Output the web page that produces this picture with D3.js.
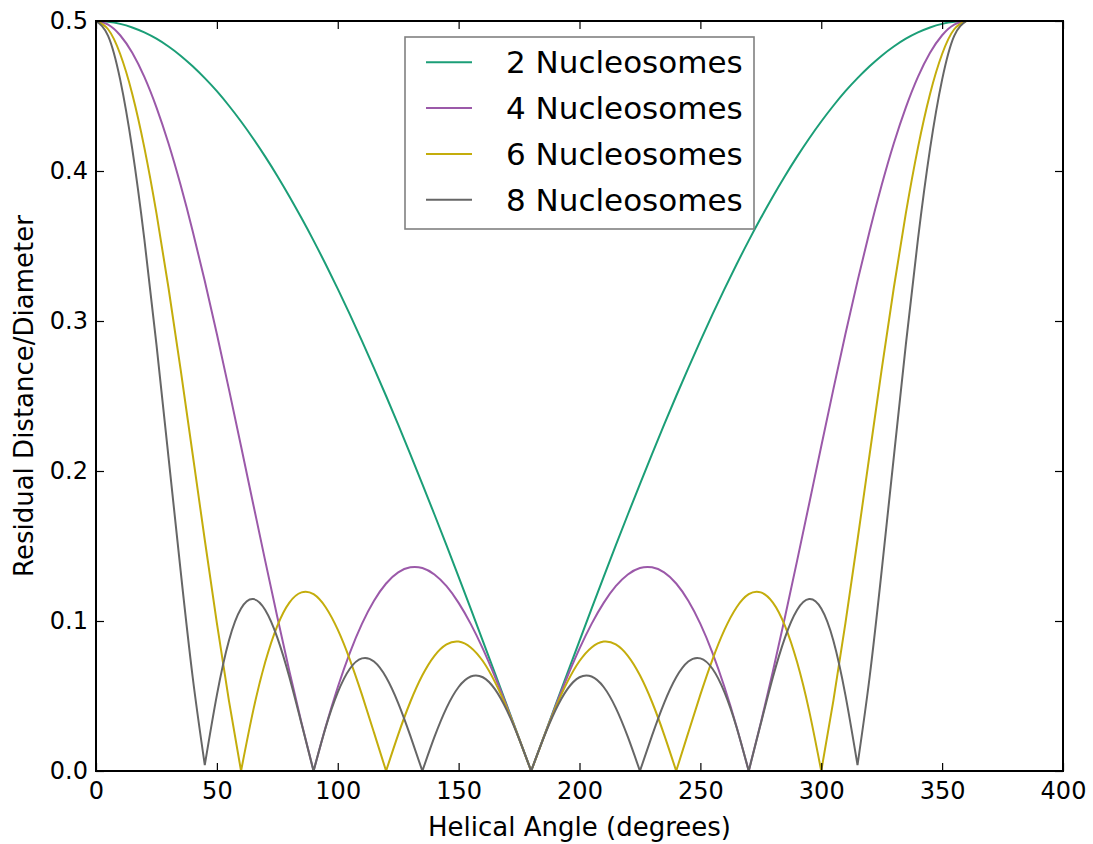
<!DOCTYPE html>
<html>
<head>
<meta charset="utf-8">
<script src="https://cdn.jsdelivr.net/npm/d3@7"></script>
<style>
  html, body { margin: 0; padding: 0; background: #fff; }
  svg { display: block; font-family: "DejaVu Sans", sans-serif; }
</style>
</head>
<body>
<svg id="chart" width="1093" height="844"></svg>
<script>
// Helical angle sample grid (degrees)
const angles = d3.range(0, 365, 5);

// Residual distance / diameter for each nucleosome count
const nuc2 = [0.5, 0.4995, 0.4981, 0.4957, 0.4924, 0.4882, 0.4830, 0.4769, 0.4698, 0.4619, 0.4532, 0.4435, 0.4330, 0.4217, 0.4096, 0.3967, 0.3830, 0.3686, 0.3536, 0.3378, 0.3214, 0.3044, 0.2868, 0.2686, 0.2500, 0.2309, 0.2113, 0.1913, 0.1710, 0.1504, 0.1294, 0.1082, 0.0868, 0.0653, 0.0436, 0.0218, 0,
  0.0218, 0.0436, 0.0653, 0.0868, 0.1082, 0.1294, 0.1504, 0.1710, 0.1913, 0.2113, 0.2309, 0.2500, 0.2686, 0.2868, 0.3044, 0.3214, 0.3378, 0.3536, 0.3686, 0.3830, 0.3967, 0.4096, 0.4217, 0.4330, 0.4435, 0.4532, 0.4619, 0.4698, 0.4769, 0.4830, 0.4882, 0.4924, 0.4957, 0.4981, 0.4995, 0.5];

const nuc4 = [0.5, 0.4976, 0.4905, 0.4788, 0.4627, 0.4424, 0.4183, 0.3906, 0.3599, 0.3266, 0.2913, 0.2544, 0.2165, 0.1782, 0.1401, 0.1027, 0.0665, 0.0321, 0, 0.0294, 0.0558, 0.0788, 0.0981, 0.1135, 0.1250, 0.1324, 0.1358, 0.1353, 0.1310, 0.1232, 0.1121, 0.0981, 0.0816, 0.0630, 0.0429, 0.0217, 0,
  0.0217, 0.0429, 0.0630, 0.0816, 0.0981, 0.1121, 0.1232, 0.1310, 0.1353, 0.1358, 0.1324, 0.1250, 0.1135, 0.0981, 0.0788, 0.0558, 0.0294, 0, 0.0321, 0.0665, 0.1027, 0.1401, 0.1782, 0.2165, 0.2544, 0.2913, 0.3266, 0.3599, 0.3906, 0.4183, 0.4424, 0.4627, 0.4788, 0.4905, 0.4976, 0.5];

const nuc6 = [0.5, 0.4945, 0.4780, 0.4514, 0.4156, 0.3719, 0.3220, 0.2677, 0.2110, 0.1540, 0.0986, 0.0467, 0, 0.0401, 0.0726, 0.0968, 0.1123, 0.1191, 0.1179, 0.1092, 0.0942, 0.0743, 0.0509, 0.0256, 0, 0.0243, 0.0460, 0.0638, 0.0768, 0.0844, 0.0863, 0.0824, 0.0733, 0.0594, 0.0418, 0.0216, 0,
  0.0216, 0.0418, 0.0594, 0.0733, 0.0824, 0.0863, 0.0844, 0.0768, 0.0638, 0.0460, 0.0243, 0, 0.0256, 0.0509, 0.0743, 0.0942, 0.1092, 0.1179, 0.1191, 0.1123, 0.0968, 0.0726, 0.0401, 0, 0.0467, 0.0986, 0.1540, 0.2110, 0.2677, 0.3220, 0.3719, 0.4156, 0.4514, 0.4780, 0.4945, 0.5];

const nuc8 = [0.5, 0.4901, 0.4609, 0.4147, 0.3545, 0.2844, 0.2091, 0.1336, 0.0625, 0.004, 0.0506, 0.0870, 0.1083, 0.1146, 0.1073, 0.0889, 0.0625, 0.0316, 0, 0.0290, 0.0524, 0.0682, 0.0751, 0.0730, 0.0625, 0.0453, 0.0236, 0, 0.0227, 0.0421, 0.0560, 0.0630, 0.0625, 0.0546, 0.0403, 0.0214, 0,
  0.0214, 0.0403, 0.0546, 0.0625, 0.0630, 0.0560, 0.0421, 0.0227, 0, 0.0236, 0.0453, 0.0625, 0.0730, 0.0751, 0.0682, 0.0524, 0.0290, 0, 0.0316, 0.0625, 0.0889, 0.1073, 0.1146, 0.1083, 0.0870, 0.0506, 0.004, 0.0625, 0.1336, 0.2091, 0.2844, 0.3545, 0.4147, 0.4609, 0.4901, 0.5];

const seriesNames = ["2 Nucleosomes", "4 Nucleosomes", "6 Nucleosomes", "8 Nucleosomes"];
const seriesValues = [nuc2, nuc4, nuc6, nuc8];
const seriesColors = ["#1b9e77", "#9b59a9", "#c4ad0c", "#666666"];

const xTicks = [0, 50, 100, 150, 200, 250, 300, 350, 400];
const yTicks = [0.0, 0.1, 0.2, 0.3, 0.4, 0.5];

const W = 1093, H = 844;
const margin = { top: 21, right: 30, bottom: 73, left: 96 };
const iw = W - margin.left - margin.right;
const ih = H - margin.top - margin.bottom;

const svg = d3.select("#chart");
const g = svg.append("g").attr("transform", `translate(${margin.left},${margin.top})`);

const x = d3.scaleLinear().domain([0, 400]).range([0, iw]);
const y = d3.scaleLinear().domain([0, 0.5]).range([ih, 0]);

// Split a series at its interior minima so the cusps stay sharp
function pieces(vals) {
  const pts = angles.map((a, i) => [a, vals[i]]);
  const out = [];
  let cur = [pts[0]];
  for (let i = 1; i < pts.length; i++) {
    cur.push(pts[i]);
    if (i < pts.length - 1 && vals[i] <= vals[i - 1] && vals[i] <= vals[i + 1]) {
      out.push(cur);
      cur = [pts[i]];
    }
  }
  out.push(cur);
  return out;
}

const line = d3.line()
  .x(d => x(d[0]))
  .y(d => y(d[1]))
  .curve(d3.curveNatural);

const plot = g.append("g");
seriesValues.forEach((vals, k) => {
  plot.append("path")
    .attr("fill", "none")
    .attr("stroke", seriesColors[k])
    .attr("stroke-width", 2)
    .attr("stroke-linejoin", "round")
    .attr("d", pieces(vals).map(seg => line(seg)).join(""));
});

// Axes: inward ticks on all four sides
const fmtY = d3.format(".1f");
const axBottom = g.append("g").attr("transform", `translate(0,${ih})`)
  .call(d3.axisBottom(x).tickValues(xTicks).tickSizeInner(-8).tickSizeOuter(0).tickPadding(11));
const axLeft = g.append("g")
  .call(d3.axisLeft(y).tickValues(yTicks).tickFormat(fmtY).tickSizeInner(-8).tickSizeOuter(0).tickPadding(8));
const axTop = g.append("g")
  .call(d3.axisTop(x).tickValues(xTicks).tickSizeInner(-8).tickSizeOuter(0).tickFormat(""));
const axRight = g.append("g").attr("transform", `translate(${iw},0)`)
  .call(d3.axisRight(y).tickValues(yTicks).tickSizeInner(-8).tickSizeOuter(0).tickFormat(""));

[axBottom, axLeft, axTop, axRight].forEach(a => {
  a.select(".domain").remove();
  a.selectAll(".tick line").attr("stroke", "#000").attr("stroke-width", 1.2);
  a.selectAll("text")
    .attr("font-family", "DejaVu Sans")
    .attr("font-size", 24)
    .attr("fill", "#000");
});

g.append("rect")
  .attr("x", 0).attr("y", 0).attr("width", iw).attr("height", ih)
  .attr("fill", "none").attr("stroke", "#000").attr("stroke-width", 2);

// Axis titles
svg.append("text")
  .attr("x", margin.left + iw / 2).attr("y", 836)
  .attr("text-anchor", "middle")
  .attr("font-size", 26)
  .text("Helical Angle (degrees)");

svg.append("text")
  .attr("transform", `translate(33,${margin.top + ih / 2}) rotate(-90)`)
  .attr("text-anchor", "middle")
  .attr("font-size", 26)
  .text("Residual Distance/Diameter");

// Legend
const legend = svg.append("g");
legend.append("rect")
  .attr("x", 405).attr("y", 37).attr("width", 349).attr("height", 192)
  .attr("fill", "#fff").attr("stroke", "#808080").attr("stroke-width", 1.6);
const rowY = d3.scaleLinear().domain([0, 3]).range([62.3, 199.7]);
seriesNames.forEach((name, k) => {
  legend.append("line")
    .attr("x1", 426).attr("x2", 472)
    .attr("y1", rowY(k)).attr("y2", rowY(k))
    .attr("stroke", seriesColors[k]).attr("stroke-width", 2);
  legend.append("text")
    .attr("x", 506).attr("y", rowY(k)).attr("dy", "0.36em")
    .attr("font-size", 31)
    .text(name);
});
</script>
</body>
</html>
